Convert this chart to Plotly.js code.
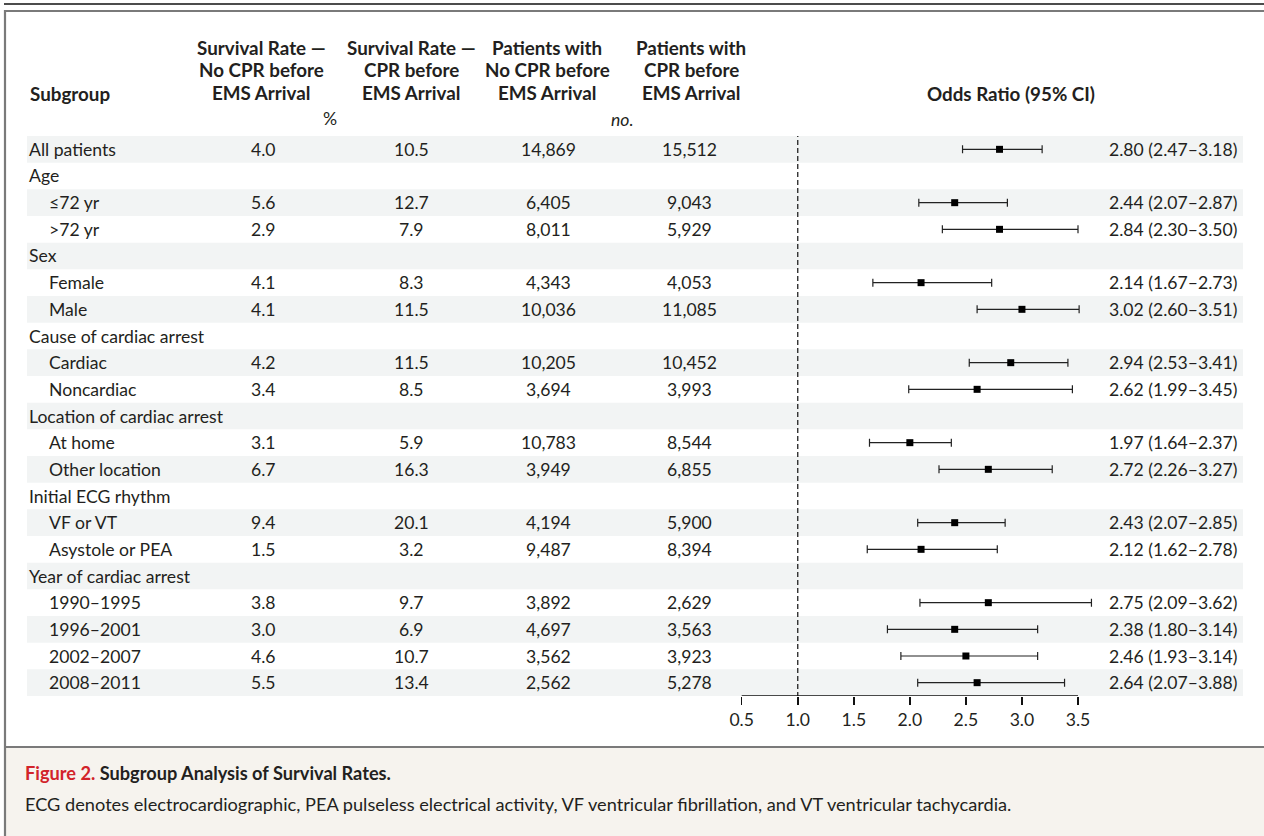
<!DOCTYPE html>
<html>
<head>
<meta charset="utf-8">
<script src="https://cdn.plot.ly/plotly-3.0.1.min.js"></script>
<style>html,body{margin:0;padding:0;background:#fff;}#chart{width:1264px;height:836px;}</style>
</head>
<body>
<div id="chart"></div>
<script>
// ---------- data ----------
const subgroups = ["All patients","Age","≤72 yr",">72 yr","Sex","Female","Male",
  "Cause of cardiac arrest","Cardiac","Noncardiac","Location of cardiac arrest","At home","Other location",
  "Initial ECG rhythm","VF or VT","Asystole or PEA","Year of cardiac arrest","1990–1995","1996–2001","2002–2007","2008–2011"];
const isSubItem = [0,0,1,1,0,1,1,0,1,1,0,1,1,0,1,1,0,1,1,1,1];
const survivalNoCPR = ["4.0",null,"5.6","2.9",null,"4.1","4.1",null,"4.2","3.4",null,"3.1","6.7",null,"9.4","1.5",null,"3.8","3.0","4.6","5.5"];
const survivalCPR = ["10.5",null,"12.7","7.9",null,"8.3","11.5",null,"11.5","8.5",null,"5.9","16.3",null,"20.1","3.2",null,"9.7","6.9","10.7","13.4"];
const patientsNoCPR = ["14,869",null,"6,405","8,011",null,"4,343","10,036",null,"10,205","3,694",null,"10,783","3,949",null,"4,194","9,487",null,"3,892","4,697","3,562","2,562"];
const patientsCPR = ["15,512",null,"9,043","5,929",null,"4,053","11,085",null,"10,452","3,993",null,"8,544","6,855",null,"5,900","8,394",null,"2,629","3,563","3,923","5,278"];
const orLabels = ["2.80 (2.47–3.18)",null,"2.44 (2.07–2.87)","2.84 (2.30–3.50)",null,"2.14 (1.67–2.73)","3.02 (2.60–3.51)",null,
  "2.94 (2.53–3.41)","2.62 (1.99–3.45)",null,"1.97 (1.64–2.37)","2.72 (2.26–3.27)",null,"2.43 (2.07–2.85)","2.12 (1.62–2.78)",null,
  "2.75 (2.09–3.62)","2.38 (1.80–3.14)","2.46 (1.93–3.14)","2.64 (2.07–3.88)"];
// plotted positions as drawn in the figure
const orPoint = [2.80,null,2.40,2.80,null,2.10,3.00,null,2.90,2.60,null,2.00,2.70,null,2.40,2.10,null,2.70,2.40,2.50,2.60];
const ciLow  = [2.47,null,2.08,2.29,null,1.67,2.60,null,2.53,1.99,null,1.64,2.26,null,2.07,1.62,null,2.09,1.80,1.92,2.07];
const ciHigh = [3.18,null,2.87,3.50,null,2.73,3.51,null,3.41,3.45,null,2.37,3.27,null,2.85,2.78,null,3.62,3.14,3.14,3.38];
const axisTicks = [0.5,1.0,1.5,2.0,2.5,3.0,3.5];
const headerCols = [
  ["Survival Rate —","No CPR before","EMS Arrival"],
  ["Survival Rate —","CPR before","EMS Arrival"],
  ["Patients with","No CPR before","EMS Arrival"],
  ["Patients with","CPR before","EMS Arrival"]
];
const captionTitle = "Figure 2.";
const captionSubtitle = "Subgroup Analysis of Survival Rates.";
const captionText = "ECG denotes electrocardiographic, PEA pulseless electrical activity, VF ventricular fibrillation, and VT ventricular tachycardia.";

// ---------- layout helpers ----------
const W = 1264, H = 836;
const FONT = "Lato, 'Open Sans', sans-serif";
const TXT = "#231f20";
const FS = 17.6, FSH = 18.8, FSC = 18.2;
const px = x => x / W;
const py = y => 1 - y / H;
const rowTop = 136, rowBottom = 696;
const n = subgroups.length;
const idx = subgroups.map((_, i) => i);

const annotations = [];
function ann(text, x, y, opts) {
  annotations.push(Object.assign({
    text: text, xref: 'paper', yref: 'paper', x: px(x), y: py(y),
    xanchor: 'center', yanchor: 'middle', showarrow: false,
    font: {family: FONT, size: FS, color: TXT}
  }, opts || {}));
}
function annRow(text, x, i, opts) {
  annotations.push(Object.assign({
    text: text, xref: 'paper', yref: 'y', x: px(x), y: i,
    xanchor: 'center', yanchor: 'middle', showarrow: false,
    font: {family: FONT, size: FS, color: TXT}
  }, opts || {}));
}

// header
const hf = {family: FONT, size: FSH, color: TXT};
ann("<b>Subgroup</b>", 28, 93, {xanchor: 'left', font: hf});
const colX = [261, 411, 547, 691];
const headY = [47, 69.5, 92];
headerCols.forEach((lines, c) => lines.forEach((t, k) =>
  ann("<b>" + t + "</b>", colX[c], headY[k], {font: hf})));
ann("<b>Odds Ratio (95% CI)</b>", 1011, 93, {font: hf});
ann("%", 330, 118);
ann("<i>no.</i>", 622, 120);

// table rows
subgroups.forEach((s, i) => {
  annRow(s, isSubItem[i] ? 47 : 27, i, {xanchor: 'left'});
  if (survivalNoCPR[i]) annRow(survivalNoCPR[i], colX[0] + 2, i);
  if (survivalCPR[i]) annRow(survivalCPR[i], colX[1], i);
  if (patientsNoCPR[i]) annRow(patientsNoCPR[i], colX[2] + 1, i);
  if (patientsCPR[i]) annRow(patientsCPR[i], colX[3] - 2, i);
  if (orLabels[i]) annRow(orLabels[i], 1239, i, {xanchor: 'right'});
});

// caption
ann('<b><span style="color:#d2232a">' + captionTitle + '</span> ' + captionSubtitle + '</b>', 23, 773,
  {xanchor: 'left', font: {family: FONT, size: FSC, color: TXT}});
ann(captionText, 23, 804, {xanchor: 'left', font: {family: FONT, size: FSC, color: TXT}});

// shapes
const shapes = [];
subgroups.forEach((s, i) => {
  if (i % 2 === 0) shapes.push({type: 'rect', xref: 'paper', yref: 'y', x0: px(27), x1: px(1243),
    y0: i - 0.5, y1: i + 0.5, fillcolor: '#f2f4f4', line: {width: 0}, layer: 'below'});
});
shapes.push({type: 'line', xref: 'x', yref: 'y', x0: 1, x1: 1, y0: -0.95, y1: n - 0.5,
  line: {color: '#222', width: 1.3, dash: '5px,3px'}, layer: 'below'});
shapes.push({type: 'line', xref: 'x', yref: 'y', x0: axisTicks[0], x1: axisTicks[axisTicks.length - 1],
  y0: n - 0.5, y1: n - 0.5, line: {color: '#111', width: 1.5}});
// frame
shapes.push({type: 'rect', xref: 'paper', yref: 'paper', x0: px(4), x1: 1.01, y0: 0, y1: py(747),
  fillcolor: '#f6f3ee', line: {width: 0}, layer: 'below'});
shapes.push({type: 'line', xref: 'paper', yref: 'paper', x0: px(4), x1: 1, y0: py(4), y1: py(4),
  line: {color: '#111', width: 1.6}});
shapes.push({type: 'line', xref: 'paper', yref: 'paper', x0: px(4), x1: 1, y0: py(11), y1: py(11),
  line: {color: '#7a7a7a', width: 2.2}});
shapes.push({type: 'line', xref: 'paper', yref: 'paper', x0: px(5), x1: px(5), y0: 0, y1: py(10),
  line: {color: '#7a7a7a', width: 2.2}});
shapes.push({type: 'line', xref: 'paper', yref: 'paper', x0: px(4), x1: 1, y0: py(747), y1: py(747),
  line: {color: '#7a7a7a', width: 2.2}});

// forest trace
const trace = {
  type: 'scatter', mode: 'markers', x: orPoint, y: idx,
  marker: {symbol: 'square', size: 7, color: '#000'},
  error_x: {type: 'data', symmetric: false,
    array: orPoint.map((v, i) => v == null ? null : ciHigh[i] - v),
    arrayminus: orPoint.map((v, i) => v == null ? null : v - ciLow[i]),
    color: '#222', thickness: 1.2, width: 4},
  cliponaxis: false, hoverinfo: 'skip', showlegend: false
};

const x0px = 741.7, unit = 112.1;
const xr = [0.3, 3.8];
const layout = {
  width: W, height: H, autosize: false,
  margin: {l: 0, r: 0, t: 0, b: 0},
  paper_bgcolor: '#fff', plot_bgcolor: 'rgba(0,0,0,0)',
  showlegend: false,
  xaxis: {range: xr, domain: [px(x0px + (xr[0] - 0.5) * unit), px(x0px + (xr[1] - 0.5) * unit)],
    showgrid: false, zeroline: false, showline: false,
    tickmode: 'array', tickvals: axisTicks, ticktext: axisTicks.map(v => v.toFixed(1)),
    ticks: 'outside', ticklen: 8, tickwidth: 1.5, tickcolor: '#111',
    tickfont: {family: FONT, size: FS, color: TXT}, fixedrange: true},
  yaxis: {range: [n - 0.5, -0.5], domain: [1 - rowBottom / H, 1 - rowTop / H],
    showgrid: false, zeroline: false, showline: false, showticklabels: false, ticks: '', fixedrange: true},
  shapes: shapes,
  annotations: annotations
};

Plotly.newPlot('chart', [trace], layout, {displayModeBar: false, staticPlot: true});
</script>
</body>
</html>
